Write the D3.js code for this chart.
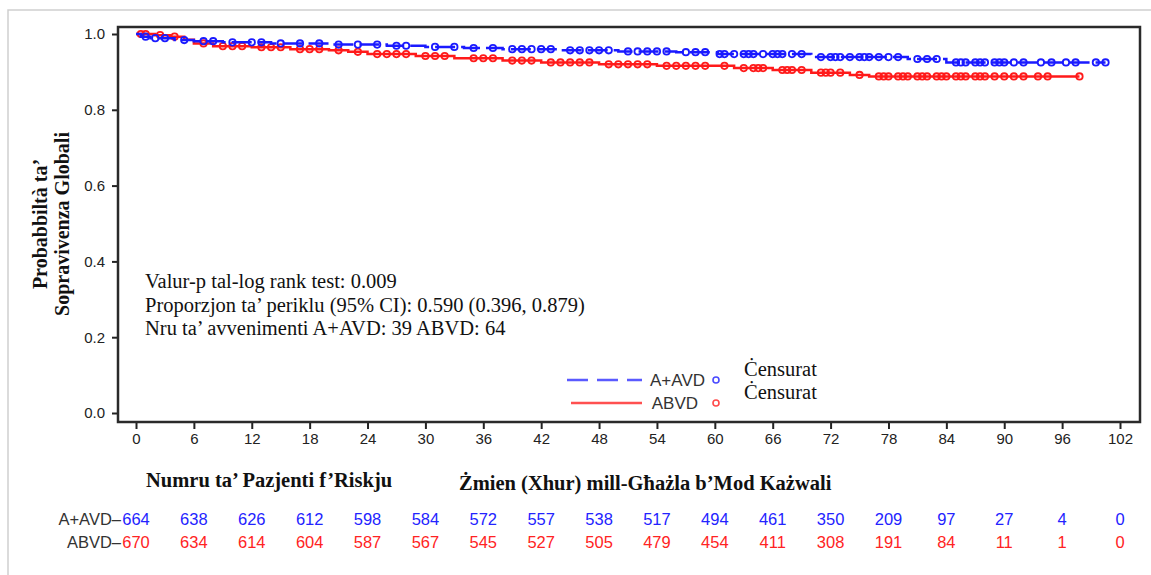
<!DOCTYPE html>
<html>
<head>
<meta charset="utf-8">
<script src="https://cdn.jsdelivr.net/npm/d3@7"></script>
<style>
  html, body { margin: 0; padding: 0; background: #fff; }
  svg { display: block; }
</style>
</head>
<body>
<svg id="chart" width="1151" height="575"></svg>
<script>
// Kaplan–Meier step points: time in months and survival after the step
const aavdTimes = [0, 0.5, 1.5, 4, 6, 9, 14, 20, 26, 30, 34, 38, 44, 50, 56, 60.3, 70, 80, 84, 100.5];
const aavdSurv  = [1.0, 0.993, 0.989, 0.984, 0.981, 0.978, 0.975, 0.972, 0.969, 0.966, 0.963, 0.960, 0.957, 0.954, 0.952, 0.947, 0.939, 0.934, 0.925, 0.925];
const abvdTimes = [0, 2, 3.5, 5, 6, 8, 12, 16, 20, 22, 24, 29, 33, 38, 42, 48, 54, 62, 66, 70, 74, 76, 97.8];
const abvdSurv  = [1.0, 0.997, 0.993, 0.985, 0.975, 0.968, 0.965, 0.960, 0.957, 0.953, 0.947, 0.942, 0.936, 0.930, 0.925, 0.920, 0.916, 0.910, 0.905, 0.898, 0.892, 0.888, 0.888];

// Censoring times (months)
const aavdCensor = [1, 2, 3, 5, 7, 8, 10, 12, 13, 15, 17, 19, 21, 23, 25, 27, 28, 31, 33, 35, 37, 39, 40, 41, 42, 43, 45, 46, 47, 48, 49, 51, 52, 53, 54, 55, 57, 58, 59, 60.5, 61, 62, 63, 63.5, 64, 65, 66, 66.5, 67, 68, 69, 71, 72, 72.5, 73, 74, 75, 75.5, 76, 77, 78, 79, 81, 82, 83, 85, 85.5, 86, 87, 87.5, 88, 89, 89.5, 90, 91, 92, 93.8, 94.9, 96.4, 97.4, 99.5, 100.5];
const abvdCensor = [0.5, 1, 2.5, 4, 7, 9, 10, 11, 13, 14, 15, 17, 18, 19, 21, 23, 25, 26, 27, 28, 30, 31, 32, 35, 36, 37, 39, 40, 41, 43, 44, 45, 46, 47, 49, 50, 51, 52, 53, 55, 56, 57, 58, 59, 61, 63, 64, 64.5, 65, 67, 67.5, 68, 69, 71, 71.5, 72, 73, 75, 77, 77.5, 78, 79, 79.5, 80, 81, 81.5, 82, 83, 83.5, 84, 85, 85.5, 86, 87, 87.5, 88, 89, 90, 91, 92, 93.5, 94.5, 97.8];

// Axis ticks
const xTicks = [0, 6, 12, 18, 24, 30, 36, 42, 48, 54, 60, 66, 72, 78, 84, 90, 96, 102];
const yTicks = [0.0, 0.2, 0.4, 0.6, 0.8, 1.0];

// Number at risk
const riskAAVD = [664, 638, 626, 612, 598, 584, 572, 557, 538, 517, 494, 461, 350, 209, 97, 27, 4, 0];
const riskABVD = [670, 634, 614, 604, 587, 567, 545, 527, 505, 479, 454, 411, 308, 191, 84, 11, 1, 0];

const statLines = [
  "Valur-p tal-log rank test: 0.009",
  "Proporzjon ta’ periklu (95% CI): 0.590 (0.396, 0.879)",
  "Nru ta’ avvenimenti A+AVD: 39 ABVD: 64"
];

const blue = "#1a1aff";
const red = "#ff1a1a";
const serif = "'Liberation Serif', 'Times New Roman', serif";
const sans = "'Liberation Sans', Arial, sans-serif";

const svg = d3.select("#chart");

// light page border
svg.append("path")
  .attr("d", "M8,580 L8,10 L1160,10")
  .attr("fill", "none").attr("stroke", "#cfcfcf").attr("stroke-width", 1.5);

const x = d3.scaleLinear().domain([0, 102]).range([136, 1120]);
const y = d3.scaleLinear().domain([0, 1]).range([413, 34]);

const frame = { left: 118, top: 27, right: 1140, bottom: 422 };

// Axes
const yAxis = svg.append("g")
  .attr("transform", `translate(${frame.left},0)`)
  .call(d3.axisLeft(y).tickValues(yTicks).tickFormat(d3.format(".1f")).tickSize(6).tickPadding(7));
const xAxis = svg.append("g")
  .attr("transform", `translate(0,${frame.bottom})`)
  .call(d3.axisBottom(x).tickValues(xTicks).tickSize(7).tickPadding(4));
[yAxis, xAxis].forEach(g => {
  g.select(".domain").remove();
  g.selectAll("line").attr("stroke", "#222").attr("stroke-width", 2);
  g.selectAll("text").attr("font-family", sans).attr("font-size", 15).attr("fill", "#222");
});

// Plot frame
svg.append("rect")
  .attr("x", frame.left).attr("y", frame.top)
  .attr("width", frame.right - frame.left).attr("height", frame.bottom - frame.top)
  .attr("fill", "none").attr("stroke", "#2a2a2a").attr("stroke-width", 2.5);

// Survival curves
const step = d3.line().x(d => x(d[0])).y(d => y(d[1])).curve(d3.curveStepAfter);
function survAt(times, surv, t) {
  let s = surv[0];
  for (let i = 0; i < times.length; i++) if (times[i] <= t) s = surv[i];
  return s;
}

function drawArm(times, surv, censor, color, dash) {
  const pts = times.map((t, i) => [t, surv[i]]);
  svg.append("path").datum(pts)
    .attr("d", step)
    .attr("fill", "none").attr("stroke", color).attr("stroke-width", 2.5)
    .attr("stroke-dasharray", dash);
  svg.append("g").selectAll("circle").data(censor).join("circle")
    .attr("cx", d => x(d))
    .attr("cy", d => y(survAt(times, surv, d)))
    .attr("r", 3.2)
    .attr("fill", "none").attr("stroke", color).attr("stroke-width", 1.8);
}
drawArm(abvdTimes, abvdSurv, abvdCensor, red, null);
drawArm(aavdTimes, aavdSurv, aavdCensor, blue, "20,6");

// Y axis title
const yt = svg.append("text")
  .attr("transform", "translate(0,224) rotate(-90)")
  .attr("text-anchor", "middle")
  .attr("font-family", serif).attr("font-weight", "bold").attr("font-size", 20).attr("fill", "#111");
yt.append("tspan").attr("x", 0).attr("y", 47).text("Probabbiltà ta’");
yt.append("tspan").attr("x", 0).attr("y", 69).text("Sopravivenza Globali");

// Test statistics
svg.append("g").selectAll("text").data(statLines).join("text")
  .attr("x", 145).attr("y", (d, i) => 288 + i * 23.5)
  .attr("font-family", serif).attr("font-size", 20.5).attr("fill", "#111")
  .text(d => d);

// Legend
const legend = svg.append("g");
legend.append("line").attr("x1", 567).attr("x2", 642).attr("y1", 380).attr("y2", 380)
  .attr("stroke", "#5a5aff").attr("stroke-width", 2.5).attr("stroke-dasharray", "21,9");
legend.append("line").attr("x1", 571).attr("x2", 642).attr("y1", 403).attr("y2", 403)
  .attr("stroke", "#ff5050").attr("stroke-width", 2.5);
legend.append("text").attr("x", 705).attr("y", 386).attr("text-anchor", "end")
  .attr("font-family", sans).attr("font-size", 17).attr("fill", "#333").text("A+AVD");
legend.append("text").attr("x", 698).attr("y", 409).attr("text-anchor", "end")
  .attr("font-family", sans).attr("font-size", 17).attr("fill", "#333").text("ABVD");
legend.append("circle").attr("cx", 716).attr("cy", 380).attr("r", 3)
  .attr("fill", "none").attr("stroke", "#4a4aff").attr("stroke-width", 1.6);
legend.append("circle").attr("cx", 716).attr("cy", 403).attr("r", 3)
  .attr("fill", "none").attr("stroke", "#ff4a4a").attr("stroke-width", 1.6);
["Ċensurat", "Ċensurat"].forEach((t, i) => {
  legend.append("text").attr("x", 744).attr("y", 376 + i * 23)
    .attr("font-family", serif).attr("font-size", 20.5).attr("fill", "#111").text(t);
});

// Titles under the axis
svg.append("text").attr("x", 146).attr("y", 487)
  .attr("font-family", serif).attr("font-weight", "bold").attr("font-size", 20.5).attr("fill", "#111")
  .text("Numru ta’ Pazjenti f’Riskju");
svg.append("text").attr("x", 459).attr("y", 490)
  .attr("font-family", serif).attr("font-weight", "bold").attr("font-size", 20.5).attr("fill", "#111")
  .text("Żmien (Xhur) mill-Għażla b’Mod Każwali");

// Number-at-risk table
function riskRow(label, values, color, yPos) {
  svg.append("text").attr("x", 121).attr("y", yPos).attr("text-anchor", "end")
    .attr("font-family", sans).attr("font-size", 16.5).attr("fill", "#333").text(label + "–");
  svg.append("g").selectAll("text").data(values).join("text")
    .attr("x", (d, i) => x(xTicks[i]))
    .attr("y", yPos)
    .attr("text-anchor", "middle")
    .attr("font-family", sans).attr("font-size", 16.5).attr("fill", color)
    .text(d => d);
}
riskRow("A+AVD", riskAAVD, "#2323ff", 525);
riskRow("ABVD", riskABVD, "#ff2323", 548);
</script>
</body>
</html>
